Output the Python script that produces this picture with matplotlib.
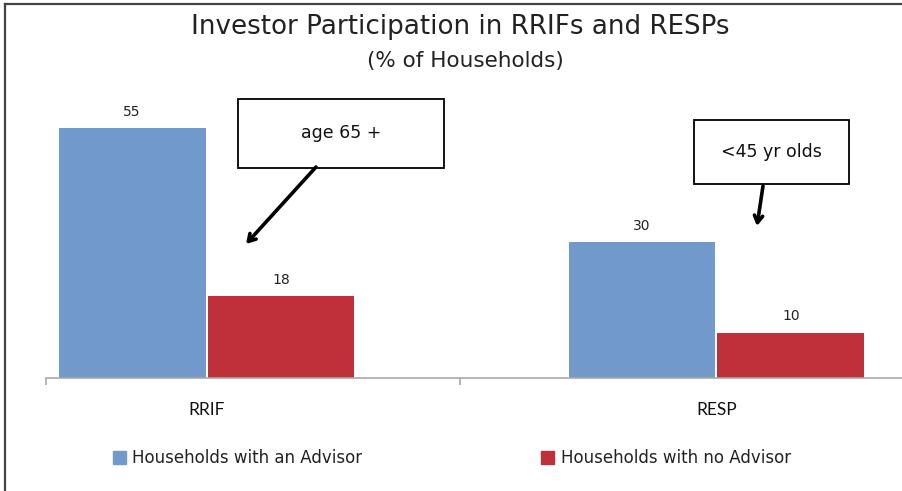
import numpy as np
import matplotlib
matplotlib.use("Agg")
import matplotlib.pyplot as plt
from matplotlib.patches import Rectangle

# data
categories = ["RRIF", "RESP"]
with_advisor = [55, 30]
no_advisor = [18, 10]
series_names = ["Households with an Advisor", "Households with no Advisor"]
callouts = ["age 65 +", "<45 yr olds"]

BLUE = "#7299CB"
RED = "#C0303A"
W, H = 903, 491

fig = plt.figure(figsize=(W / 100, H / 100), dpi=100)


def fp(x, y):
    # image pixel -> figure fraction
    return x / W, 1 - y / H


# plot area: baseline at y=378, from x=46 to right edge
ax = fig.add_axes([46 / W, (H - 378) / H, (W - 46) / W, (378 - 4) / H])
x = np.arange(len(categories))
bw = 0.288
off = 0.146
b1 = ax.bar(x - off, with_advisor, bw, color=BLUE, label=series_names[0])
b2 = ax.bar(x + off, no_advisor, bw, color=RED, label=series_names[1])

for bars in (b1, b2):
    for r in bars:
        ax.text(r.get_x() + r.get_width() / 2, r.get_height() + 2.0,
                f"{r.get_height():g}", ha="center", va="bottom",
                fontsize=10, color="#222222")

ax.set_xlim(-0.315, 1.366)
ax.set_ylim(0, 82.3)
for s in ["top", "left", "right"]:
    ax.spines[s].set_visible(False)
ax.spines["bottom"].set_color("#A8A8A8")
ax.spines["bottom"].set_linewidth(1.2)
ax.set_yticks([])
ax.set_xticks([-0.315, 0.497])
ax.set_xticklabels([])
ax.tick_params(axis="x", length=5, color="#A8A8A8", width=1.2)
for xi, c in zip(x, categories):
    ax.text(xi, -7.0, c, ha="center", va="center", fontsize=12.5,
            family="Lato", color="#111111")

# title
fig.text(*fp(460, 27), "Investor Participation in RRIFs and RESPs",
         ha="center", va="center", fontsize=18.8, color="#222222")
fig.text(*fp(465, 61), "(% of Households)", ha="center", va="center",
         fontsize=15.5, color="#222222")

# legend
for (sx, tx), col, name in zip([(113, 132), (541, 561)], [BLUE, RED], series_names):
    fig.patches.append(Rectangle(fp(sx, 464), 13 / W, 13 / H,
                                 transform=fig.transFigure, color=col))
    fig.text(*fp(tx, 458), name, ha="left", va="center", fontsize=12,
             color="#222222")

# callout boxes
boxes = [(238, 99, 444, 168), (694, 120, 849, 184)]
arrows = [((316, 167), (246, 244)), ((763, 186), (757, 226))]
for (x0, y0, x1, y1), txt, (a0, a1) in zip(boxes, callouts, arrows):
    fig.patches.append(Rectangle(fp(x0, y1), (x1 - x0) / W, (y1 - y0) / H,
                                 transform=fig.transFigure, fill=False,
                                 edgecolor="black", lw=1.3))
    fig.text(*fp((x0 + x1) / 2, (y0 + y1) / 2), txt, ha="center",
             va="center", fontsize=12.5, color="#111111")
    ax.annotate("", xy=fp(*a1), xytext=fp(*a0), xycoords="figure fraction",
                textcoords="figure fraction",
                arrowprops=dict(arrowstyle="->,head_length=0.5,head_width=0.3",
                                lw=2.6, color="black", shrinkA=0, shrinkB=0))

# outer frame (cropped at right and bottom)
fig.add_artist(plt.Line2D([5 / W, 5 / W], [0, 1 - 4 / H], transform=fig.transFigure,
                          color="#444444", lw=1.6))
fig.add_artist(plt.Line2D([5 / W, 1], [1 - 4 / H, 1 - 4 / H], transform=fig.transFigure,
                          color="#444444", lw=1.6))

fig.savefig("out.png", dpi=100)
